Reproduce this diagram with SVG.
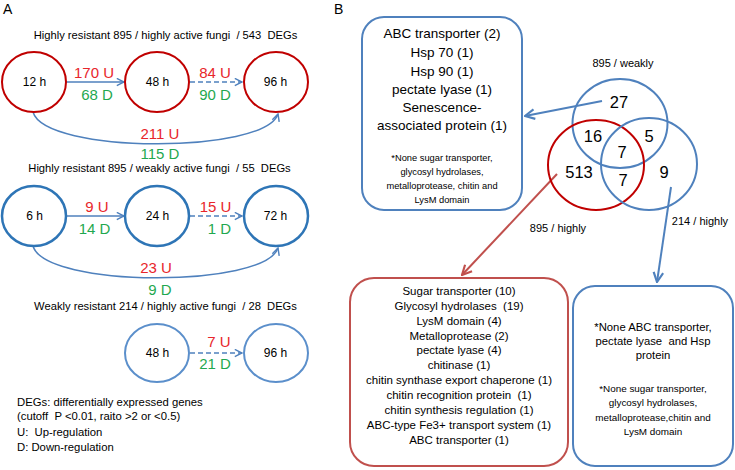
<svg xmlns="http://www.w3.org/2000/svg" width="735" height="470" viewBox="0 0 735 470">
<defs>
<style>
text{font-family:"Liberation Sans",Arial,sans-serif;fill:#000;white-space:pre}
.t{font-size:11.2px;text-anchor:middle}
.h{font-size:12px;text-anchor:middle}
.u{font-size:15px;text-anchor:middle;fill:#E8262B}
.d{font-size:15px;text-anchor:middle;fill:#1FA84F}
.lg{font-size:11.3px}
.big{font-size:13.5px;text-anchor:middle}
.sm{font-size:9.3px;text-anchor:middle}
.rb{font-size:11.5px;text-anchor:middle}
.bb1{font-size:11.3px;text-anchor:middle}
.bb2{font-size:9.9px;text-anchor:middle}
.vn{font-size:16.5px;text-anchor:middle}
.vl{font-size:11px;text-anchor:middle}
.pl{font-size:14px}
.r1{fill:#fff;stroke:#C00000;stroke-width:2}
.r2{fill:#fff;stroke:#2E75B6;stroke-width:2.5}
.r3{fill:#fff;stroke:#5B8FCB;stroke-width:2}
.ar{fill:none;stroke:#4F81BD;stroke-width:1.5}
.dash{stroke-dasharray:5 3}
.vb{fill:none;stroke:#4F81BD;stroke-width:2}
.vr{fill:none;stroke:#C00000;stroke-width:2}
.boxb{fill:#fff;stroke:#4F81BD;stroke-width:2}
.boxr{fill:#fff;stroke:#C0504D;stroke-width:2}
</style>
<marker id="ab" viewBox="0 0 10 10" refX="9" refY="5" markerWidth="9" markerHeight="9" markerUnits="userSpaceOnUse" orient="auto">
<path d="M1,1 L9,5 L1,9" fill="none" stroke="#4F81BD" stroke-width="1.6"/>
</marker>
<marker id="abb" viewBox="0 0 10 10" refX="9" refY="5" markerWidth="12" markerHeight="12" markerUnits="userSpaceOnUse" orient="auto">
<path d="M1,1 L9,5 L1,9" fill="none" stroke="#4F81BD" stroke-width="1.8"/>
</marker>
<marker id="ar" viewBox="0 0 10 10" refX="9" refY="5" markerWidth="12" markerHeight="12" markerUnits="userSpaceOnUse" orient="auto">
<path d="M1,1 L9,5 L1,9" fill="none" stroke="#C0504D" stroke-width="1.8"/>
</marker>
</defs>

<text class="pl" x="3" y="14">A</text>
<text class="pl" x="334" y="14">B</text>

<g id="panelA-titles">
<text class="t" x="165.5" y="39">Highly resistant 895 / highly active fungi  / 543  DEGs</text>
<text class="t" x="159.5" y="172">Highly resistant 895 / weakly active fungi  / 55  DEGs</text>
<text class="t" x="165.5" y="310">Weakly resistant 214 / highly active fungi  / 28  DEGs</text>
</g>

<g id="connectors">
<path class="ar" d="M66,82 L124,82" marker-end="url(#ab)"/>
<path class="ar dash" d="M190,82 L242,82" marker-end="url(#ab)"/>
<path class="ar" d="M33,112 C45,154 265,154 278,114" marker-end="url(#ab)"/>
<path class="ar" d="M66,216 L124,216" marker-end="url(#ab)"/>
<path class="ar dash" d="M190,216 L242,216" marker-end="url(#ab)"/>
<path class="ar" d="M33,246 C45,288 265,288 278,248" marker-end="url(#ab)"/>
<path class="ar dash" d="M190,353 L242,353" marker-end="url(#ab)"/>
<path class="vb" d="M602,101 L525,116" marker-end="url(#abb)"/>
<path d="M557,174 L462,275" fill="none" stroke="#C0504D" stroke-width="2" marker-end="url(#ar)"/>
<path class="vb" d="M671,187 L657,282" marker-end="url(#abb)"/>
</g>

<g id="edge-labels">
<text class="u" x="94" y="78">170 U</text>
<text class="d" x="97" y="100">68 D</text>
<text class="u" x="215" y="78">84 U</text>
<text class="d" x="215" y="100">90 D</text>
<text class="u" x="160" y="139">211 U</text>
<text class="d" x="160" y="159">115 D</text>
<text class="u" x="97" y="212">9 U</text>
<text class="d" x="94.5" y="234">14 D</text>
<text class="u" x="215.5" y="212">15 U</text>
<text class="d" x="219.5" y="234">1 D</text>
<text class="u" x="156" y="273">23 U</text>
<text class="d" x="160" y="295">9 D</text>
<text class="u" x="219" y="347">7 U</text>
<text class="d" x="215" y="369">21 D</text>
</g>

<g id="n-r1-12h"><ellipse class="r1" cx="34" cy="82" rx="32" ry="30"/><text class="h" x="34.5" y="86">12 h</text></g>
<g id="n-r1-48h"><ellipse class="r1" cx="157" cy="82" rx="32" ry="30"/><text class="h" x="157.5" y="86">48 h</text></g>
<g id="n-r1-96h"><ellipse class="r1" cx="276" cy="82" rx="32" ry="30"/><text class="h" x="275.5" y="86">96 h</text></g>
<g id="n-r2-6h"><ellipse class="r2" cx="34" cy="216" rx="32" ry="30"/><text class="h" x="34.5" y="220">6 h</text></g>
<g id="n-r2-24h"><ellipse class="r2" cx="157" cy="216" rx="32" ry="30"/><text class="h" x="157.5" y="220">24 h</text></g>
<g id="n-r2-72h"><ellipse class="r2" cx="276" cy="216" rx="32" ry="30"/><text class="h" x="275.5" y="220">72 h</text></g>
<g id="n-r3-48h"><ellipse class="r3" cx="157" cy="353" rx="32" ry="29"/><text class="h" x="157.5" y="357">48 h</text></g>
<g id="n-r3-96h"><ellipse class="r3" cx="276" cy="353" rx="32" ry="29"/><text class="h" x="275.5" y="357">96 h</text></g>

<g id="legend">
<text class="lg" x="17" y="406">DEGs: differentially expressed genes</text>
<text class="lg" x="17" y="420">(cutoff  P &lt;0.01, raito &gt;2 or &lt;0.5)</text>
<text class="lg" x="17" y="436">U:  Up-regulation</text>
<text class="lg" x="17" y="451">D: Down-regulation</text>
</g>

<g id="box-weakly">
<rect class="boxb" x="362" y="17" width="160" height="193" rx="22"/>
<text class="big" x="442" y="38">ABC transporter (2)</text>
<text class="big" x="442" y="57">Hsp 70 (1)</text>
<text class="big" x="442" y="76">Hsp 90 (1)</text>
<text class="big" x="442" y="94">pectate lyase (1)</text>
<text class="big" x="442" y="112">Senescence-</text>
<text class="big" x="442" y="130">associated protein (1)</text>
<text class="sm" x="442" y="161">*None sugar transporter,</text>
<text class="sm" x="442" y="175">glycosyl hydrolases,</text>
<text class="sm" x="442" y="189">metalloprotease, chitin and</text>
<text class="sm" x="442" y="203">LysM domain</text>
</g>

<g id="venn">
<ellipse class="vb" cx="620" cy="123.5" rx="47.5" ry="44.5"/>
<ellipse class="vr" cx="596" cy="165" rx="48" ry="45"/>
<ellipse class="vb" cx="649" cy="164" rx="48" ry="46"/>
<text class="vn" x="619" y="108">27</text>
<text class="vn" x="593" y="142">16</text>
<text class="vn" x="649" y="142">5</text>
<text class="vn" x="622" y="158">7</text>
<text class="vn" x="579" y="178">513</text>
<text class="vn" x="623" y="186">7</text>
<text class="vn" x="664" y="178">9</text>
<text class="vl" x="623" y="67">895 / weakly</text>
<text class="vl" x="558" y="232">895 / highly</text>
<text class="vl" x="700" y="225">214 / highly</text>
</g>

<g id="box-895-highly">
<rect class="boxr" x="350" y="278" width="218" height="188" rx="24"/>
<text class="rb" x="459" y="295">Sugar transporter (10)</text>
<text class="rb" x="459" y="310">Glycosyl hydrolases  (19)</text>
<text class="rb" x="459" y="325">LysM domain (4)</text>
<text class="rb" x="459" y="340">Metalloprotease (2)</text>
<text class="rb" x="459" y="354">pectate lyase (4)</text>
<text class="rb" x="459" y="369">chitinase (1)</text>
<text class="rb" x="459" y="384">chitin synthase export chaperone (1)</text>
<text class="rb" x="459" y="399">chitin recognition protein  (1)</text>
<text class="rb" x="459" y="414">chitin synthesis regulation (1)</text>
<text class="rb" x="459" y="429">ABC-type Fe3+ transport system (1)</text>
<text class="rb" x="459" y="444">ABC transporter (1)</text>
</g>

<g id="box-214-highly">
<rect class="boxb" x="573" y="286" width="160" height="180" rx="22"/>
<text class="bb1" x="653" y="331">*None ABC transporter,</text>
<text class="bb1" x="653" y="345">pectate lyase  and Hsp</text>
<text class="bb1" x="653" y="359">protein</text>
<text class="bb2" x="653" y="392">*None sugar transporter,</text>
<text class="bb2" x="653" y="406">glycosyl hydrolases,</text>
<text class="bb2" x="653" y="421">metalloprotease,chitin and</text>
<text class="bb2" x="653" y="435">LysM domain</text>
</g>
</svg>
